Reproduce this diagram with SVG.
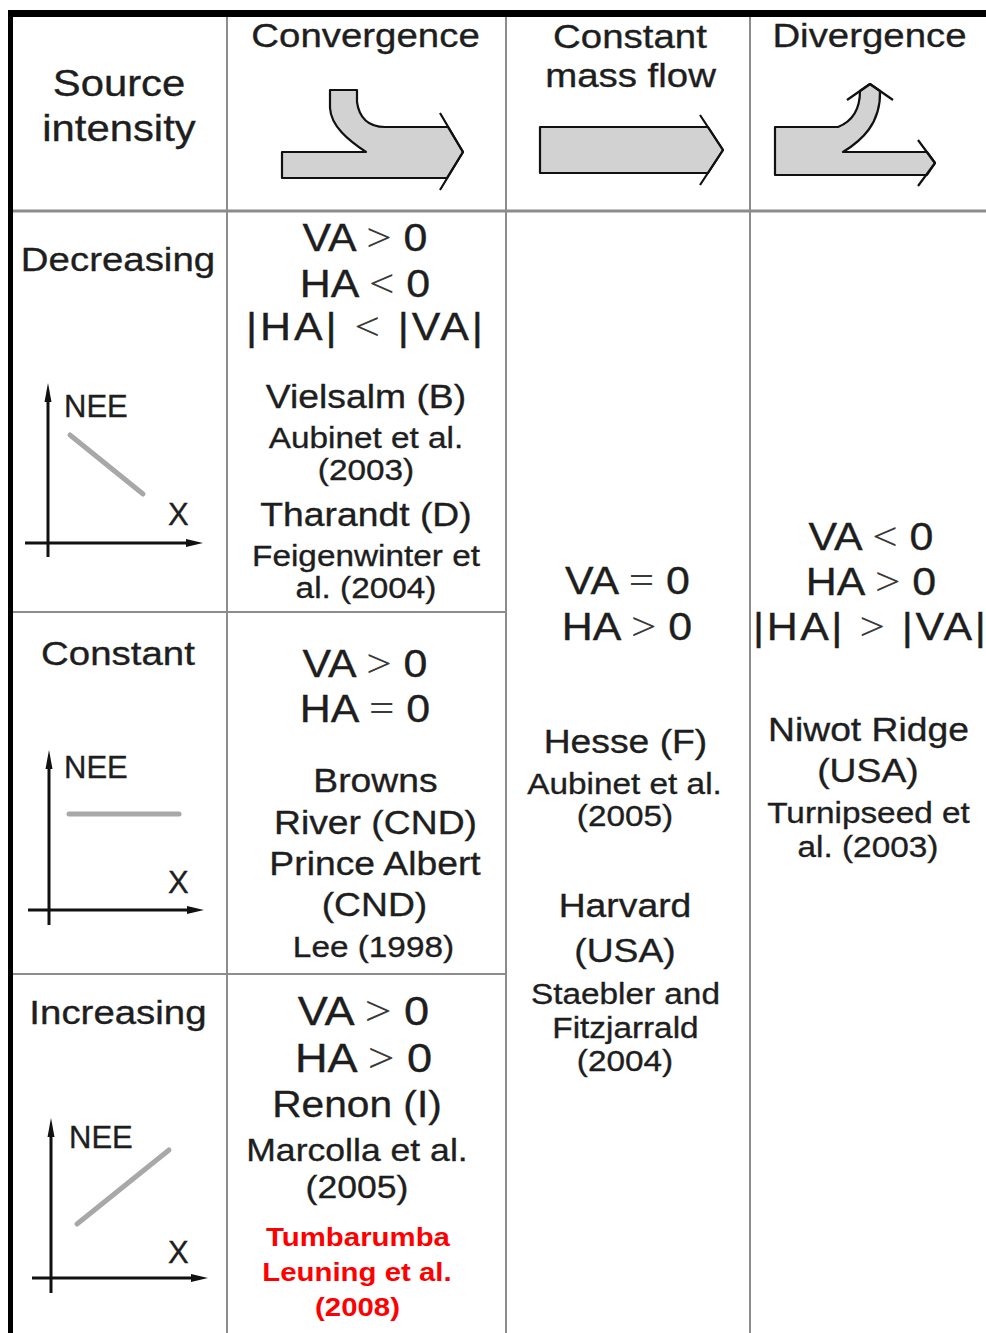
<svg xmlns="http://www.w3.org/2000/svg" width="986" height="1333" viewBox="0 0 986 1333">
<defs>
<style>
.t{font-family:"Liberation Sans",Arial,sans-serif;fill:#1e1e1e;stroke:#1e1e1e;stroke-width:0.35;text-anchor:middle}
.op{font-family:"Liberation Serif","Times New Roman",serif;fill:#3a3a3a;stroke:none;font-size:1.05em}
.h{font-size:34px}
.eq{font-size:38px}
.eq3{font-size:40px}
.site{font-size:33px}
.ref{font-size:29.5px}
.red{font-family:"Liberation Sans",Arial,sans-serif;font-weight:bold;fill:#ff0000;text-anchor:middle;font-size:26px}
.ax{font-family:"Liberation Sans",Arial,sans-serif;fill:#1e1e1e;stroke:#1e1e1e;stroke-width:0.35;font-size:31px}
.grid{stroke:#8c8c8c;stroke-width:2;fill:none}
.axis{stroke:#111;stroke-width:3;fill:none}
.data{stroke:#a8a8a8;stroke-width:5;stroke-linecap:round;fill:none}
.arrow{fill:#d2d2d2;stroke:#111;stroke-width:2.2;stroke-linejoin:round}
.chev{fill:none;stroke:#111;stroke-width:2.2;stroke-linejoin:round}
</style>
</defs>
<rect x="0" y="0" width="986" height="1333" fill="#ffffff"/>

<g id="grid">
<line class="grid" x1="227" y1="17" x2="227" y2="1333"/>
<line class="grid" x1="506" y1="17" x2="506" y2="1333"/>
<line class="grid" x1="750" y1="17" x2="750" y2="1333"/>
<line x1="13" y1="211" x2="986" y2="211" stroke="#8c8c8c" stroke-width="3"/>
<line class="grid" x1="13" y1="612" x2="506" y2="612"/>
<line class="grid" x1="13" y1="974" x2="506" y2="974"/>
<line x1="8" y1="13.5" x2="986" y2="13.5" stroke="#000" stroke-width="7"/>
<line x1="10.5" y1="10" x2="10.5" y2="1333" stroke="#000" stroke-width="5"/>
</g>

<g id="header">
<g id="source-intensity" transform="scale(1.13,1)">
<text class="t" x="105.3" y="96" font-size="37">Source</text>
<text class="t" x="105.3" y="141" font-size="37">intensity</text>
</g>
<g id="convergence">
<text class="t h" transform="scale(1.13,1)" x="323.5" y="47">Convergence</text>
<path class="arrow" d="M282,152 L366,152 C348,140 331,126 330,108 L330,90 L357,90 L357,102 C359,117 368,127 385,127 L448,127 L463,152 L447,178 L282,178 Z"/>
<polyline class="chev" points="440,113 463,152 440,190"/>
</g>
<g id="constant-mass-flow">
<text class="t h" transform="scale(1.13,1)" x="557.5" y="48">Constant</text>
<text class="t h" transform="scale(1.13,1)" x="558" y="87">mass flow</text>
<path class="arrow" d="M540,127 L708,127 L723,150 L708,173 L540,173 Z"/>
<polyline class="chev" points="700,115 723,150 700,185"/>
</g>
<g id="divergence">
<text class="t h" transform="scale(1.13,1)" x="769.5" y="47">Divergence</text>
<path class="arrow" d="M775,127 L838,127 C853,121 860,108 860,91 L870,84 L880,91 C881,124 861,141 843,152 L927,152 L935,163 L927,175 L775,175 Z"/>
<polyline class="chev" points="847,100 870,84 893,100"/>
<polyline class="chev" points="918,140 935,163 918,186"/>
</g>
</g>

<g id="row-decreasing">
<text class="t h" transform="scale(1.13,1)" x="104.4" y="271">Decreasing</text>
<g id="graph-decreasing">
<line class="axis" x1="48" y1="395" x2="48" y2="557"/>
<polygon points="48,383 44.5,402 51.5,402" fill="#111"/>
<line class="axis" x1="25" y1="543" x2="190" y2="543"/>
<polygon points="203,543 186,539 186,547" fill="#111"/>
<text class="ax" x="64" y="417">NEE</text>
<text class="ax" x="168" y="525" font-size="35">X</text>
<line class="data" x1="70" y1="435" x2="143" y2="494"/>
</g>
<g id="cell-convergence-decreasing" transform="scale(1.13,1)">
<text class="t eq" x="323" y="251">VA <tspan class="op">&gt;</tspan> 0</text>
<text class="t eq" x="323" y="297">HA <tspan class="op">&lt;</tspan> 0</text>
<text class="t eq" x="217.7" y="340" style="text-anchor:start" textLength="209.7" lengthAdjust="spacing">|HA| <tspan class="op">&lt;</tspan> |VA|</text>
<text class="t site" x="323.9" y="408">Vielsalm (B)</text>
<text class="t ref" x="323.9" y="448">Aubinet et al.</text>
<text class="t ref" x="323.9" y="480">(2003)</text>
<text class="t site" x="323.9" y="526">Tharandt (D)</text>
<text class="t ref" x="323.9" y="566">Feigenwinter et</text>
<text class="t ref" x="323.9" y="598">al. (2004)</text>
</g>
</g>

<g id="row-constant">
<text class="t h" transform="scale(1.13,1)" x="104.4" y="665">Constant</text>
<g id="graph-constant">
<line class="axis" x1="49" y1="762" x2="49" y2="925"/>
<polygon points="49,750 45.5,769 52.5,769" fill="#111"/>
<line class="axis" x1="28" y1="910" x2="191" y2="910"/>
<polygon points="204,910 187,906 187,914" fill="#111"/>
<text class="ax" x="64" y="778">NEE</text>
<text class="ax" x="168" y="893" font-size="35">X</text>
<line class="data" x1="69" y1="814" x2="179" y2="814" stroke-width="4.5"/>
</g>
<g id="cell-convergence-constant" transform="scale(1.13,1)">
<text class="t eq" x="323" y="677">VA <tspan class="op">&gt;</tspan> 0</text>
<text class="t eq" x="323" y="722">HA <tspan class="op">=</tspan> 0</text>
<text class="t site" x="332.3" y="792">Browns</text>
<text class="t site" x="332.3" y="834">River (CND)</text>
<text class="t site" x="331.9" y="875">Prince Albert</text>
<text class="t site" x="331.4" y="916">(CND)</text>
<text class="t ref" x="330.5" y="957">Lee (1998)</text>
</g>
</g>

<g id="row-increasing">
<text class="t h" transform="scale(1.13,1)" x="104.4" y="1024">Increasing</text>
<g id="graph-increasing">
<line class="axis" x1="51" y1="1130" x2="51" y2="1293"/>
<polygon points="51,1118 47.5,1137 54.5,1137" fill="#111"/>
<line class="axis" x1="32" y1="1278" x2="195" y2="1278"/>
<polygon points="208,1278 191,1274 191,1282" fill="#111"/>
<text class="ax" x="69" y="1148">NEE</text>
<text class="ax" x="168" y="1263" font-size="35">X</text>
<line class="data" x1="77" y1="1224" x2="169" y2="1150"/>
</g>
<g id="cell-convergence-increasing" transform="scale(1.13,1)">
<text class="t eq3" x="321.7" y="1025">VA <tspan class="op">&gt;</tspan> 0</text>
<text class="t eq3" x="321.7" y="1072">HA <tspan class="op">&gt;</tspan> 0</text>
<text class="t" x="315.9" y="1117" font-size="36">Renon (I)</text>
<text class="t" x="315.9" y="1161" font-size="31.5">Marcolla et al.</text>
<text class="t" x="315.9" y="1198" font-size="31.5">(2005)</text>
<text class="red" x="316.8" y="1246">Tumbarumba</text>
<text class="red" x="315.9" y="1281">Leuning et al.</text>
<text class="red" x="316.4" y="1316">(2008)</text>
</g>
</g>

<g id="cell-constant-mass-flow" transform="scale(1.13,1)">
<text class="t eq" x="555.3" y="594">VA <tspan class="op">=</tspan> 0</text>
<text class="t eq" x="554.9" y="640">HA <tspan class="op">&gt;</tspan> 0</text>
<text class="t site" x="553.5" y="753">Hesse (F)</text>
<text class="t ref" x="552.7" y="794">Aubinet et al.</text>
<text class="t ref" x="553.1" y="826">(2005)</text>
<text class="t site" x="553.1" y="917">Harvard</text>
<text class="t site" x="553.1" y="962">(USA)</text>
<text class="t ref" x="553.5" y="1004">Staebler and</text>
<text class="t ref" x="553.5" y="1038">Fitzjarrald</text>
<text class="t ref" x="553.1" y="1071">(2004)</text>
</g>

<g id="cell-divergence" transform="scale(1.13,1)">
<text class="t eq" x="770.8" y="550">VA <tspan class="op">&lt;</tspan> 0</text>
<text class="t eq" x="770.8" y="595">HA <tspan class="op">&gt;</tspan> 0</text>
<text class="t eq" x="666.4" y="640" style="text-anchor:start" textLength="206" lengthAdjust="spacing">|HA| <tspan class="op">&gt;</tspan> |VA|</text>
<text class="t site" x="768.6" y="741">Niwot Ridge</text>
<text class="t site" x="768.1" y="782">(USA)</text>
<text class="t ref" x="768.6" y="823">Turnipseed et</text>
<text class="t ref" x="768.1" y="857">al. (2003)</text>
</g>
</svg>
